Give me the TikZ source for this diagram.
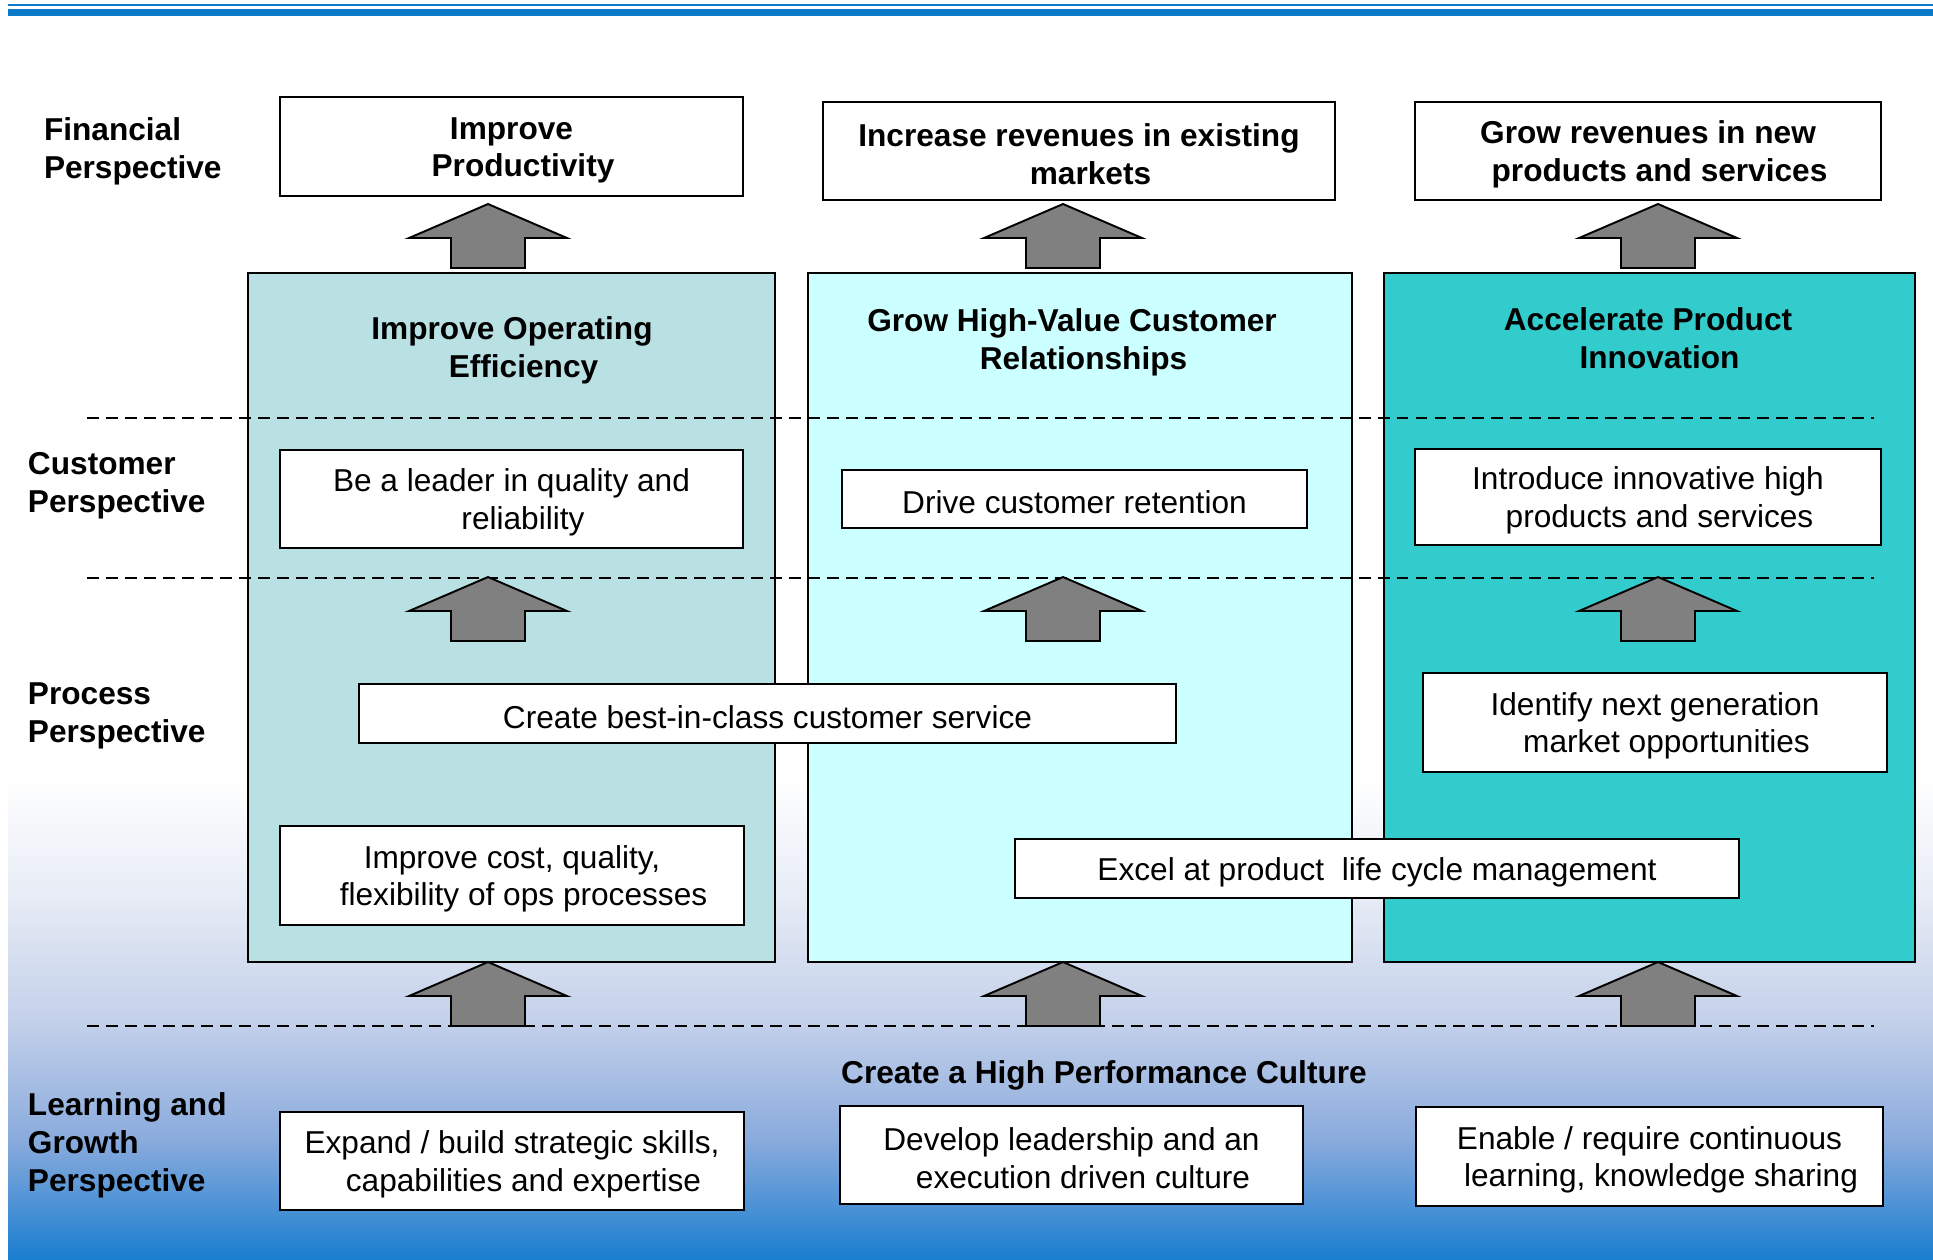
\documentclass[tikz,border=0pt]{standalone}
\usepackage{fontspec}
\setmainfont{Liberation Sans}
\usetikzlibrary{positioning}

\definecolor{topblue}{HTML}{0B7BC9}
\definecolor{effcol}{HTML}{B9E0E3}
\definecolor{relcol}{HTML}{CCFFFF}
\definecolor{innocol}{HTML}{33CCCC}
\definecolor{arrgray}{HTML}{808080}
\definecolor{bgA}{HTML}{E6EBF5}
\definecolor{bgB}{HTML}{C4D1EA}
\definecolor{bgC}{HTML}{8AABDD}
\definecolor{bgD}{HTML}{1A7ECF}
\pgfdeclareverticalshading{learnbg}{100bp}{color(0bp)=(bgD); color(25bp)=(bgD);
  color(37.5bp)=(bgC); color(50bp)=(bgB); color(62.5bp)=(bgA); color(75bp)=(white); color(100bp)=(white)}
% second line of a box text sits a little to the right
\newcommand\brk{\\\hspace*{2.3mm}}
% box texts sit a little low in their frames
\newcommand\tp{\rule{0pt}{8.4pt}}

\begin{document}
\begin{tikzpicture}
[x=0.1mm,y=-0.1mm,
 every node/.style={font=\fontsize{9}{10.8}\selectfont,inner sep=0pt,outer sep=0pt},
 box/.style={draw,fill=white,line width=0.65pt,align=center},
 finbox/.style={box,font=\fontsize{9}{10.8}\selectfont\bfseries},
 colbox/.style={draw,line width=0.7pt},
 hd/.style={align=center,font=\fontsize{9}{10.8}\selectfont\bfseries},
 lbl/.style={anchor=west,align=left,font=\fontsize{9}{10.8}\selectfont\bfseries},
 rowline/.style={dashed,line width=0.6pt,dash pattern=on 3.4pt off 2pt},
 uparr/.pic={\draw[fill=arrgray,line width=0.55pt] (-37,0) -- (-37,-30) -- (-79,-30) -- (0,-64)
   -- (79,-30) -- (37,-30) -- (37,0) -- cycle;}]
\useasboundingbox (0,0) rectangle (1933,1259);

% page decoration
\fill[topblue] (8,4) rectangle (1933,6);
\fill[topblue] (8,9) rectangle (1933,16);
\shade[shading=learnbg] (8,780) rectangle (1933,1259);

% the three themes
\node[colbox,fill=effcol,minimum width=52.7mm,minimum height=68.9mm] (col1) at (511.5,617.5) {};
\node[colbox,fill=relcol,minimum width=54.4mm,minimum height=68.9mm] (col2) at (1080,617.5) {};
\node[colbox,fill=innocol,minimum width=53.1mm,minimum height=68.9mm] (col3) at (1649.5,617.5) {};
\node[hd] (t1) at (512,350)  {Improve Operating\brk Efficiency};
\node[hd] (t2) at (1072,342) {Grow High-Value Customer\brk Relationships};
\node[hd] (t3) at (1648,338) {Accelerate Product\brk Innovation};

\draw[rowline] (87,418) -- (1874,418);
\draw[rowline] (87,578) -- (1874,578);
\draw[rowline] (87,1026) -- (1874,1026);

% perspectives
\node[lbl] (lfin) at (44,151)  {Financial\\Perspective};
\node[lbl] (lcus) at (28,486)  {Customer\\Perspective};
\node[lbl] (lpro) at (28,716)  {Process\\Perspective};
\node[lbl] (llrn) at (28,1145) {Learning and\\Growth\\Perspective};

\node[finbox,minimum width=46.3mm,minimum height=9.9mm] (fin1) at (511.5,146.5) {\tp Improve\brk Productivity};
\node[finbox,minimum width=51.2mm,minimum height=9.8mm] (fin2) at (1079,151) {\tp Increase revenues in existing\brk markets};
\node[finbox,minimum width=46.6mm,minimum height=9.8mm] (fin3) at (1648,151) {\tp Grow revenues in new\brk products and services};

\node[box,minimum width=46.3mm,minimum height=9.8mm] (cus1) at (511.5,499) {\tp Be a leader in quality and\brk reliability};
\node[box,minimum width=46.5mm,minimum height=5.8mm] (cus2) at (1074.5,499) {\tp Drive customer retention};
\node[box,minimum width=46.6mm,minimum height=9.6mm] (cus3) at (1648,497) {\tp Introduce innovative high\brk products and services};

\node[box,minimum width=81.7mm,minimum height=5.9mm] (pro1) at (767.5,713.5) {\tp Create best-in-class customer service};
\node[box,minimum width=46.4mm,minimum height=9.9mm] (pro2) at (1655,722.5) {\tp Identify next generation\brk market opportunities};
\node[box,minimum width=46.4mm,minimum height=9.9mm] (pro3) at (512,875.5) {\tp Improve cost, quality,\brk flexibility of ops processes};
\node[box,minimum width=72.4mm,minimum height=5.9mm] (pro4) at (1377,868.5) {\tp Excel at product\ \ life cycle management};

\node[hd] (cult) at (1104,1075) {Create a High Performance Culture};
\node[box,minimum width=46.4mm,minimum height=9.8mm] (lrn1) at (512,1161) {\tp Expand / build strategic skills,\brk capabilities and expertise};
\node[box,minimum width=46.3mm,minimum height=9.8mm] (lrn2) at (1071.5,1155) {\tp Develop leadership and an\brk execution driven culture};
\node[box,minimum width=46.7mm,minimum height=9.9mm] (lrn3) at (1649.5,1156.5) {\tp Enable / require continuous\brk learning, knowledge sharing};

% block arrows between the levels
\foreach \y in {268,641,1026}{
  \pic at (488,\y) {uparr};
  \pic at (1063,\y) {uparr};
  \pic at (1658,\y) {uparr};
}
\end{tikzpicture}
\end{document}
